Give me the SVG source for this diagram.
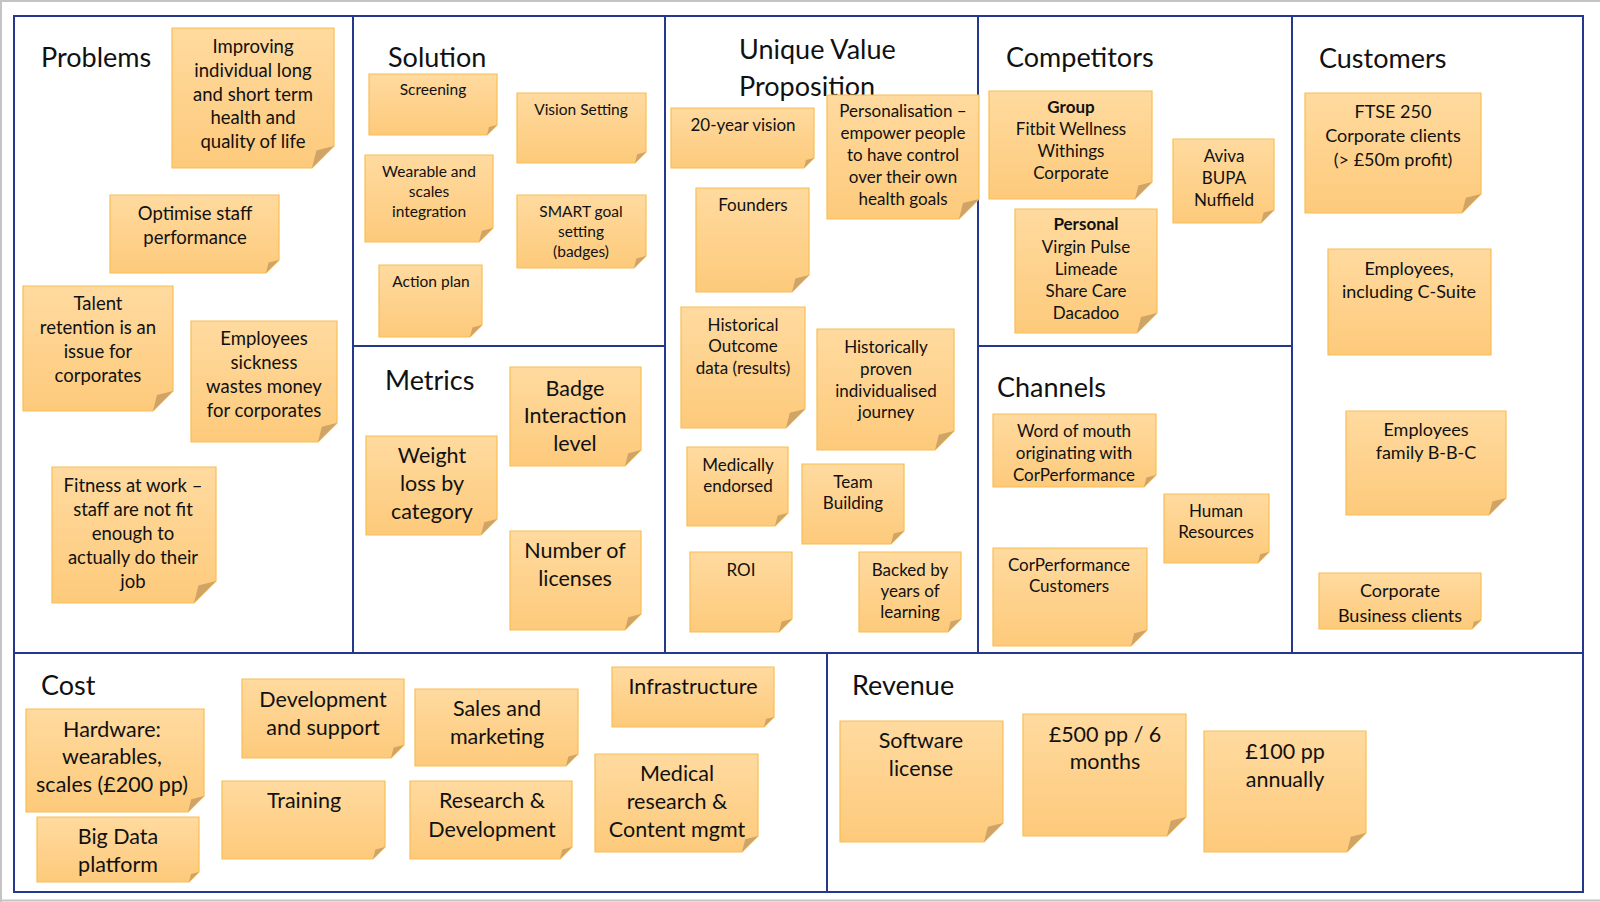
<svg xmlns="http://www.w3.org/2000/svg" width="1600" height="902" viewBox="0 0 1600 902">
  <defs>
    <linearGradient id="paperFill" x1="0" y1="0" x2="0" y2="1">
      <stop offset="0" stop-color="#FFDA9F"/>
      <stop offset="1" stop-color="#FDCA7B"/>
    </linearGradient>
    <style>
      .frame { fill: none; stroke: #24398c; stroke-width: 2; }
      .edge { fill: none; stroke: #c4c4c4; stroke-width: 2; }
      .paper { fill: url(#paperFill); stroke: #F8BE52; stroke-width: 1.2; }
      .fold { fill: #CFA466; }
      text { font-family: Lato, "Liberation Sans", sans-serif; fill: #111; }
      .title { font-size: 27px; }
      .note text { text-anchor: middle; }
      .p text { font-size: 18.5px; }
      .s text { font-size: 15.5px; }
      .u text { font-size: 17px; }
      .c text { font-size: 17px; }
      .k text { font-size: 18px; }
      .b text { font-size: 21.5px; }
      .bold { font-weight: bold; }
    </style>
  </defs>

  <rect width="1600" height="902" fill="#ffffff"/>
  <path class="edge" d="M0 1 H1600 M1 0 V902 M0 900.5 H1600"/>

  <!-- canvas grid -->
  <g id="grid">
    <rect class="frame" x="14" y="16" width="1569" height="876"/>
    <path class="frame" d="M14 653 H1583 M353 16 V653 M665 16 V653 M978 16 V653 M1292 16 V653 M353 346 H665 M978 346 H1292 M827 653 V892"/>
  </g>

  <!-- section headings -->
  <g id="headings">
    <text class="title" x="41" y="67">Problems</text>
    <text class="title" x="388" y="67">Solution</text>
    <text class="title" x="739" y="59">Unique Value</text>
    <text class="title" x="739" y="96">Proposition</text>
    <text class="title" x="1006" y="67">Competitors</text>
    <text class="title" x="1319" y="68">Customers</text>
    <text class="title" x="385" y="390">Metrics</text>
    <text class="title" x="997" y="397">Channels</text>
    <text class="title" x="41" y="695">Cost</text>
    <text class="title" x="852" y="695">Revenue</text>
  </g>

  <!-- Problems -->
  <g id="problem-health" class="note p">
    <path class="paper" d="M172 28 H334 V146 L312 168 H172 Z"/>
    <path class="fold" d="M334 146 L312 168 L316.4 150.4 Z"/>
    <text><tspan x="253" y="53">Improving</tspan><tspan x="253" y="77">individual long</tspan><tspan x="253" y="101">and short term</tspan><tspan x="253" y="124">health and</tspan><tspan x="253" y="148">quality of life</tspan></text>
  </g>
  <g id="problem-performance" class="note p">
    <path class="paper" d="M110 195 H279 V260 L266 273 H110 Z"/>
    <path class="fold" d="M279 260 L266 273 L268.6 262.6 Z"/>
    <text><tspan x="195" y="220">Optimise staff</tspan><tspan x="195" y="244">performance</tspan></text>
  </g>
  <g id="problem-retention" class="note p">
    <path class="paper" d="M23 286 H173 V391 L153 411 H23 Z"/>
    <path class="fold" d="M173 391 L153 411 L157 395 Z"/>
    <text><tspan x="98" y="310">Talent</tspan><tspan x="98" y="334">retention is an</tspan><tspan x="98" y="358">issue for</tspan><tspan x="98" y="382">corporates</tspan></text>
  </g>
  <g id="problem-sickness" class="note p">
    <path class="paper" d="M191 321 H337 V423 L318 442 H191 Z"/>
    <path class="fold" d="M337 423 L318 442 L321.8 426.8 Z"/>
    <text><tspan x="264" y="345">Employees</tspan><tspan x="264" y="369">sickness</tspan><tspan x="264" y="393">wastes money</tspan><tspan x="264" y="417">for corporates</tspan></text>
  </g>
  <g id="problem-fitness" class="note p">
    <path class="paper" d="M52 467 H216 V581 L194 603 H52 Z"/>
    <path class="fold" d="M216 581 L194 603 L198.4 585.4 Z"/>
    <text><tspan x="133" y="492">Fitness at work –</tspan><tspan x="133" y="516">staff are not fit</tspan><tspan x="133" y="540">enough to</tspan><tspan x="133" y="564">actually do their</tspan><tspan x="133" y="588">job</tspan></text>
  </g>

  <!-- Solution -->
  <g id="solution-screening" class="note s">
    <path class="paper" d="M369 74 H497 V125 L487 135 H369 Z"/>
    <path class="fold" d="M497 125 L487 135 L489 127 Z"/>
    <text><tspan x="433" y="95">Screening</tspan></text>
  </g>
  <g id="solution-vision" class="note s">
    <path class="paper" d="M517 93 H646 V152 L635 163 H517 Z"/>
    <path class="fold" d="M646 152 L635 163 L637.2 154.2 Z"/>
    <text><tspan x="581" y="115">Vision Setting</tspan></text>
  </g>
  <g id="solution-wearables" class="note s">
    <path class="paper" d="M365 155 H493 V228 L479 242 H365 Z"/>
    <path class="fold" d="M493 228 L479 242 L481.8 230.8 Z"/>
    <text><tspan x="429" y="177">Wearable and</tspan><tspan x="429" y="197">scales</tspan><tspan x="429" y="217">integration</tspan></text>
  </g>
  <g id="solution-smart" class="note s">
    <path class="paper" d="M517 195 H646 V256 L634 268 H517 Z"/>
    <path class="fold" d="M646 256 L634 268 L636.4 258.4 Z"/>
    <text><tspan x="581" y="217">SMART goal</tspan><tspan x="581" y="237">setting</tspan><tspan x="581" y="257">(badges)</tspan></text>
  </g>
  <g id="solution-action" class="note s">
    <path class="paper" d="M379 265 H482 V325 L470 337 H379 Z"/>
    <path class="fold" d="M482 325 L470 337 L472.4 327.4 Z"/>
    <text><tspan x="431" y="287">Action plan</tspan></text>
  </g>

  <!-- Metrics -->
  <g id="metric-badge" class="note b">
    <path class="paper" d="M510 367 H641 V450 L625 466 H510 Z"/>
    <path class="fold" d="M641 450 L625 466 L628.2 453.2 Z"/>
    <text><tspan x="575" y="396">Badge</tspan><tspan x="575" y="423">Interaction</tspan><tspan x="575" y="451">level</tspan></text>
  </g>
  <g id="metric-weight" class="note b">
    <path class="paper" d="M366 436 H497 V519 L481 535 H366 Z"/>
    <path class="fold" d="M497 519 L481 535 L484.2 522.2 Z"/>
    <text><tspan x="432" y="463">Weight</tspan><tspan x="432" y="491">loss by</tspan><tspan x="432" y="519">category</tspan></text>
  </g>
  <g id="metric-licenses" class="note b">
    <path class="paper" d="M510 531 H641 V614 L625 630 H510 Z"/>
    <path class="fold" d="M641 614 L625 630 L628.2 617.2 Z"/>
    <text><tspan x="575" y="558">Number of</tspan><tspan x="575" y="586">licenses</tspan></text>
  </g>

  <!-- Unique Value Proposition -->
  <g id="uvp-vision" class="note u">
    <path class="paper" d="M671 108 H814 V158 L804 168 H671 Z"/>
    <path class="fold" d="M814 158 L804 168 L806 160 Z"/>
    <text><tspan x="743" y="131">20-year vision</tspan></text>
  </g>
  <g id="uvp-personalisation" class="note u">
    <path class="paper" d="M827 95 H979 V199 L959 219 H827 Z"/>
    <path class="fold" d="M979 199 L959 219 L963 203 Z"/>
    <text><tspan x="903" y="117">Personalisation –</tspan><tspan x="903" y="139">empower people</tspan><tspan x="903" y="161">to have control</tspan><tspan x="903" y="183">over their own</tspan><tspan x="903" y="205">health goals</tspan></text>
  </g>
  <g id="uvp-founders" class="note u">
    <path class="paper" d="M696 188 H809 V275 L792 292 H696 Z"/>
    <path class="fold" d="M809 275 L792 292 L795.4 278.4 Z"/>
    <text><tspan x="753" y="211">Founders</tspan></text>
  </g>
  <g id="uvp-outcome-data" class="note u">
    <path class="paper" d="M681 307 H805 V409 L786 428 H681 Z"/>
    <path class="fold" d="M805 409 L786 428 L789.8 412.8 Z"/>
    <text><tspan x="743" y="331">Historical</tspan><tspan x="743" y="352">Outcome</tspan><tspan x="743" y="374">data (results)</tspan></text>
  </g>
  <g id="uvp-journey" class="note u">
    <path class="paper" d="M817 329 H954 V431 L935 450 H817 Z"/>
    <path class="fold" d="M954 431 L935 450 L938.8 434.8 Z"/>
    <text><tspan x="886" y="353">Historically</tspan><tspan x="886" y="375">proven</tspan><tspan x="886" y="397">individualised</tspan><tspan x="886" y="418">journey</tspan></text>
  </g>
  <g id="uvp-medical" class="note u">
    <path class="paper" d="M687 447 H788 V513 L775 526 H687 Z"/>
    <path class="fold" d="M788 513 L775 526 L777.6 515.6 Z"/>
    <text><tspan x="738" y="471">Medically</tspan><tspan x="738" y="492">endorsed</tspan></text>
  </g>
  <g id="uvp-team" class="note u">
    <path class="paper" d="M802 464 H904 V531 L891 544 H802 Z"/>
    <path class="fold" d="M904 531 L891 544 L893.6 533.6 Z"/>
    <text><tspan x="853" y="488">Team</tspan><tspan x="853" y="509">Building</tspan></text>
  </g>
  <g id="uvp-roi" class="note u">
    <path class="paper" d="M690 552 H792 V619 L779 632 H690 Z"/>
    <path class="fold" d="M792 619 L779 632 L781.6 621.6 Z"/>
    <text><tspan x="741" y="576">ROI</tspan></text>
  </g>
  <g id="uvp-learning" class="note u">
    <path class="paper" d="M859 552 H961 V619 L948 632 H859 Z"/>
    <path class="fold" d="M961 619 L948 632 L950.6 621.6 Z"/>
    <text><tspan x="910" y="576">Backed by</tspan><tspan x="910" y="597">years of</tspan><tspan x="910" y="618">learning</tspan></text>
  </g>

  <!-- Competitors -->
  <g id="competitor-group" class="note c">
    <path class="paper" d="M989 91 H1152 V182 L1135 199 H989 Z"/>
    <path class="fold" d="M1152 182 L1135 199 L1138.4 185.4 Z"/>
    <text><tspan class="bold" x="1071" y="113">Group</tspan><tspan x="1071" y="135">Fitbit Wellness</tspan><tspan x="1071" y="157">Withings</tspan><tspan x="1071" y="179">Corporate</tspan></text>
  </g>
  <g id="competitor-insurers" class="note c">
    <path class="paper" d="M1173 139 H1274 V210 L1261 223 H1173 Z"/>
    <path class="fold" d="M1274 210 L1261 223 L1263.6 212.6 Z"/>
    <text><tspan x="1224" y="162">Aviva</tspan><tspan x="1224" y="184">BUPA</tspan><tspan x="1224" y="206">Nuffield</tspan></text>
  </g>
  <g id="competitor-personal" class="note c">
    <path class="paper" d="M1015 209 H1157 V313 L1137 333 H1015 Z"/>
    <path class="fold" d="M1157 313 L1137 333 L1141 317 Z"/>
    <text><tspan class="bold" x="1086" y="230">Personal</tspan><tspan x="1086" y="253">Virgin Pulse</tspan><tspan x="1086" y="275">Limeade</tspan><tspan x="1086" y="297">Share Care</tspan><tspan x="1086" y="319">Dacadoo</tspan></text>
  </g>

  <!-- Channels -->
  <g id="channel-word-of-mouth" class="note c">
    <path class="paper" d="M993 414 H1156 V475 L1144 487 H993 Z"/>
    <path class="fold" d="M1156 475 L1144 487 L1146.4 477.4 Z"/>
    <text><tspan x="1074" y="437">Word of mouth</tspan><tspan x="1074" y="459">originating with</tspan><tspan x="1074" y="481">CorPerformance</tspan></text>
  </g>
  <g id="channel-hr" class="note c">
    <path class="paper" d="M1164 494 H1269 V552 L1258 563 H1164 Z"/>
    <path class="fold" d="M1269 552 L1258 563 L1260.2 554.2 Z"/>
    <text><tspan x="1216" y="517">Human</tspan><tspan x="1216" y="538">Resources</tspan></text>
  </g>
  <g id="channel-customers" class="note c">
    <path class="paper" d="M993 548 H1147 V630 L1131 646 H993 Z"/>
    <path class="fold" d="M1147 630 L1131 646 L1134.2 633.2 Z"/>
    <text><tspan x="1069" y="571">CorPerformance</tspan><tspan x="1069" y="592">Customers</tspan></text>
  </g>

  <!-- Customers -->
  <g id="customer-ftse" class="note k">
    <path class="paper" d="M1305 93 H1481 V194 L1462 213 H1305 Z"/>
    <path class="fold" d="M1481 194 L1462 213 L1465.8 197.8 Z"/>
    <text><tspan x="1393" y="118">FTSE 250</tspan><tspan x="1393" y="142">Corporate clients</tspan><tspan x="1393" y="166">(&gt; £50m profit)</tspan></text>
  </g>
  <g id="customer-employees" class="note k">
    <path class="paper" d="M1328 249 H1491 V355 H1328 Z"/>
    <text><tspan x="1409" y="275">Employees,</tspan><tspan x="1409" y="298">including C-Suite</tspan></text>
  </g>
  <g id="customer-family" class="note k">
    <path class="paper" d="M1346 411 H1506 V498 L1489 515 H1346 Z"/>
    <path class="fold" d="M1506 498 L1489 515 L1492.4 501.4 Z"/>
    <text><tspan x="1426" y="436">Employees</tspan><tspan x="1426" y="459">family B-B-C</tspan></text>
  </g>
  <g id="customer-business" class="note k">
    <path class="paper" d="M1319 573 H1481 V620 L1472 629 H1319 Z"/>
    <path class="fold" d="M1481 620 L1472 629 L1473.8 621.8 Z"/>
    <text><tspan x="1400" y="597">Corporate</tspan><tspan x="1400" y="622">Business clients</tspan></text>
  </g>

  <!-- Cost -->
  <g id="cost-hardware" class="note b">
    <path class="paper" d="M26 709 H204 V796 L188 812 H26 Z"/>
    <path class="fold" d="M204 796 L188 812 L191.2 799.2 Z"/>
    <text><tspan x="112" y="737">Hardware:</tspan><tspan x="112" y="764">wearables,</tspan><tspan x="112" y="792">scales (£200 pp)</tspan></text>
  </g>
  <g id="cost-big-data" class="note b">
    <path class="paper" d="M37 817 H199 V872 L189 882 H37 Z"/>
    <path class="fold" d="M199 872 L189 882 L191 874 Z"/>
    <text><tspan x="118" y="844">Big Data</tspan><tspan x="118" y="872">platform</tspan></text>
  </g>
  <g id="cost-development" class="note b">
    <path class="paper" d="M242 679 H404 V745 L391 758 H242 Z"/>
    <path class="fold" d="M404 745 L391 758 L393.6 747.6 Z"/>
    <text><tspan x="323" y="707">Development</tspan><tspan x="323" y="735">and support</tspan></text>
  </g>
  <g id="cost-training" class="note b">
    <path class="paper" d="M222 781 H385 V847 L373 859 H222 Z"/>
    <path class="fold" d="M385 847 L373 859 L375.4 849.4 Z"/>
    <text><tspan x="304" y="808">Training</tspan></text>
  </g>
  <g id="cost-sales" class="note b">
    <path class="paper" d="M415 689 H578 V754 L566 766 H415 Z"/>
    <path class="fold" d="M578 754 L566 766 L568.4 756.4 Z"/>
    <text><tspan x="497" y="716">Sales and</tspan><tspan x="497" y="744">marketing</tspan></text>
  </g>
  <g id="cost-infrastructure" class="note b">
    <path class="paper" d="M612 667 H774 V717 L764 727 H612 Z"/>
    <path class="fold" d="M774 717 L764 727 L766 719 Z"/>
    <text><tspan x="693" y="694">Infrastructure</tspan></text>
  </g>
  <g id="cost-research" class="note b">
    <path class="paper" d="M410 781 H572 V847 L560 859 H410 Z"/>
    <path class="fold" d="M572 847 L560 859 L562.4 849.4 Z"/>
    <text><tspan x="492" y="808">Research &amp;</tspan><tspan x="492" y="837">Development</tspan></text>
  </g>
  <g id="cost-medical" class="note b">
    <path class="paper" d="M595 754 H758 V836 L742 852 H595 Z"/>
    <path class="fold" d="M758 836 L742 852 L745.2 839.2 Z"/>
    <text><tspan x="677" y="781">Medical</tspan><tspan x="677" y="809">research &amp;</tspan><tspan x="677" y="837">Content mgmt</tspan></text>
  </g>

  <!-- Revenue -->
  <g id="revenue-license" class="note b">
    <path class="paper" d="M840 721 H1003 V823 L984 842 H840 Z"/>
    <path class="fold" d="M1003 823 L984 842 L987.8 826.8 Z"/>
    <text><tspan x="921" y="748">Software</tspan><tspan x="921" y="776">license</tspan></text>
  </g>
  <g id="revenue-six-months" class="note b">
    <path class="paper" d="M1023 714 H1186 V817 L1167 836 H1023 Z"/>
    <path class="fold" d="M1186 817 L1167 836 L1170.8 820.8 Z"/>
    <text><tspan x="1105" y="742">£500 pp / 6</tspan><tspan x="1105" y="769">months</tspan></text>
  </g>
  <g id="revenue-annual" class="note b">
    <path class="paper" d="M1204 731 H1366 V833 L1347 852 H1204 Z"/>
    <path class="fold" d="M1366 833 L1347 852 L1350.8 836.8 Z"/>
    <text><tspan x="1285" y="759">£100 pp</tspan><tspan x="1285" y="787">annually</tspan></text>
  </g>
</svg>
